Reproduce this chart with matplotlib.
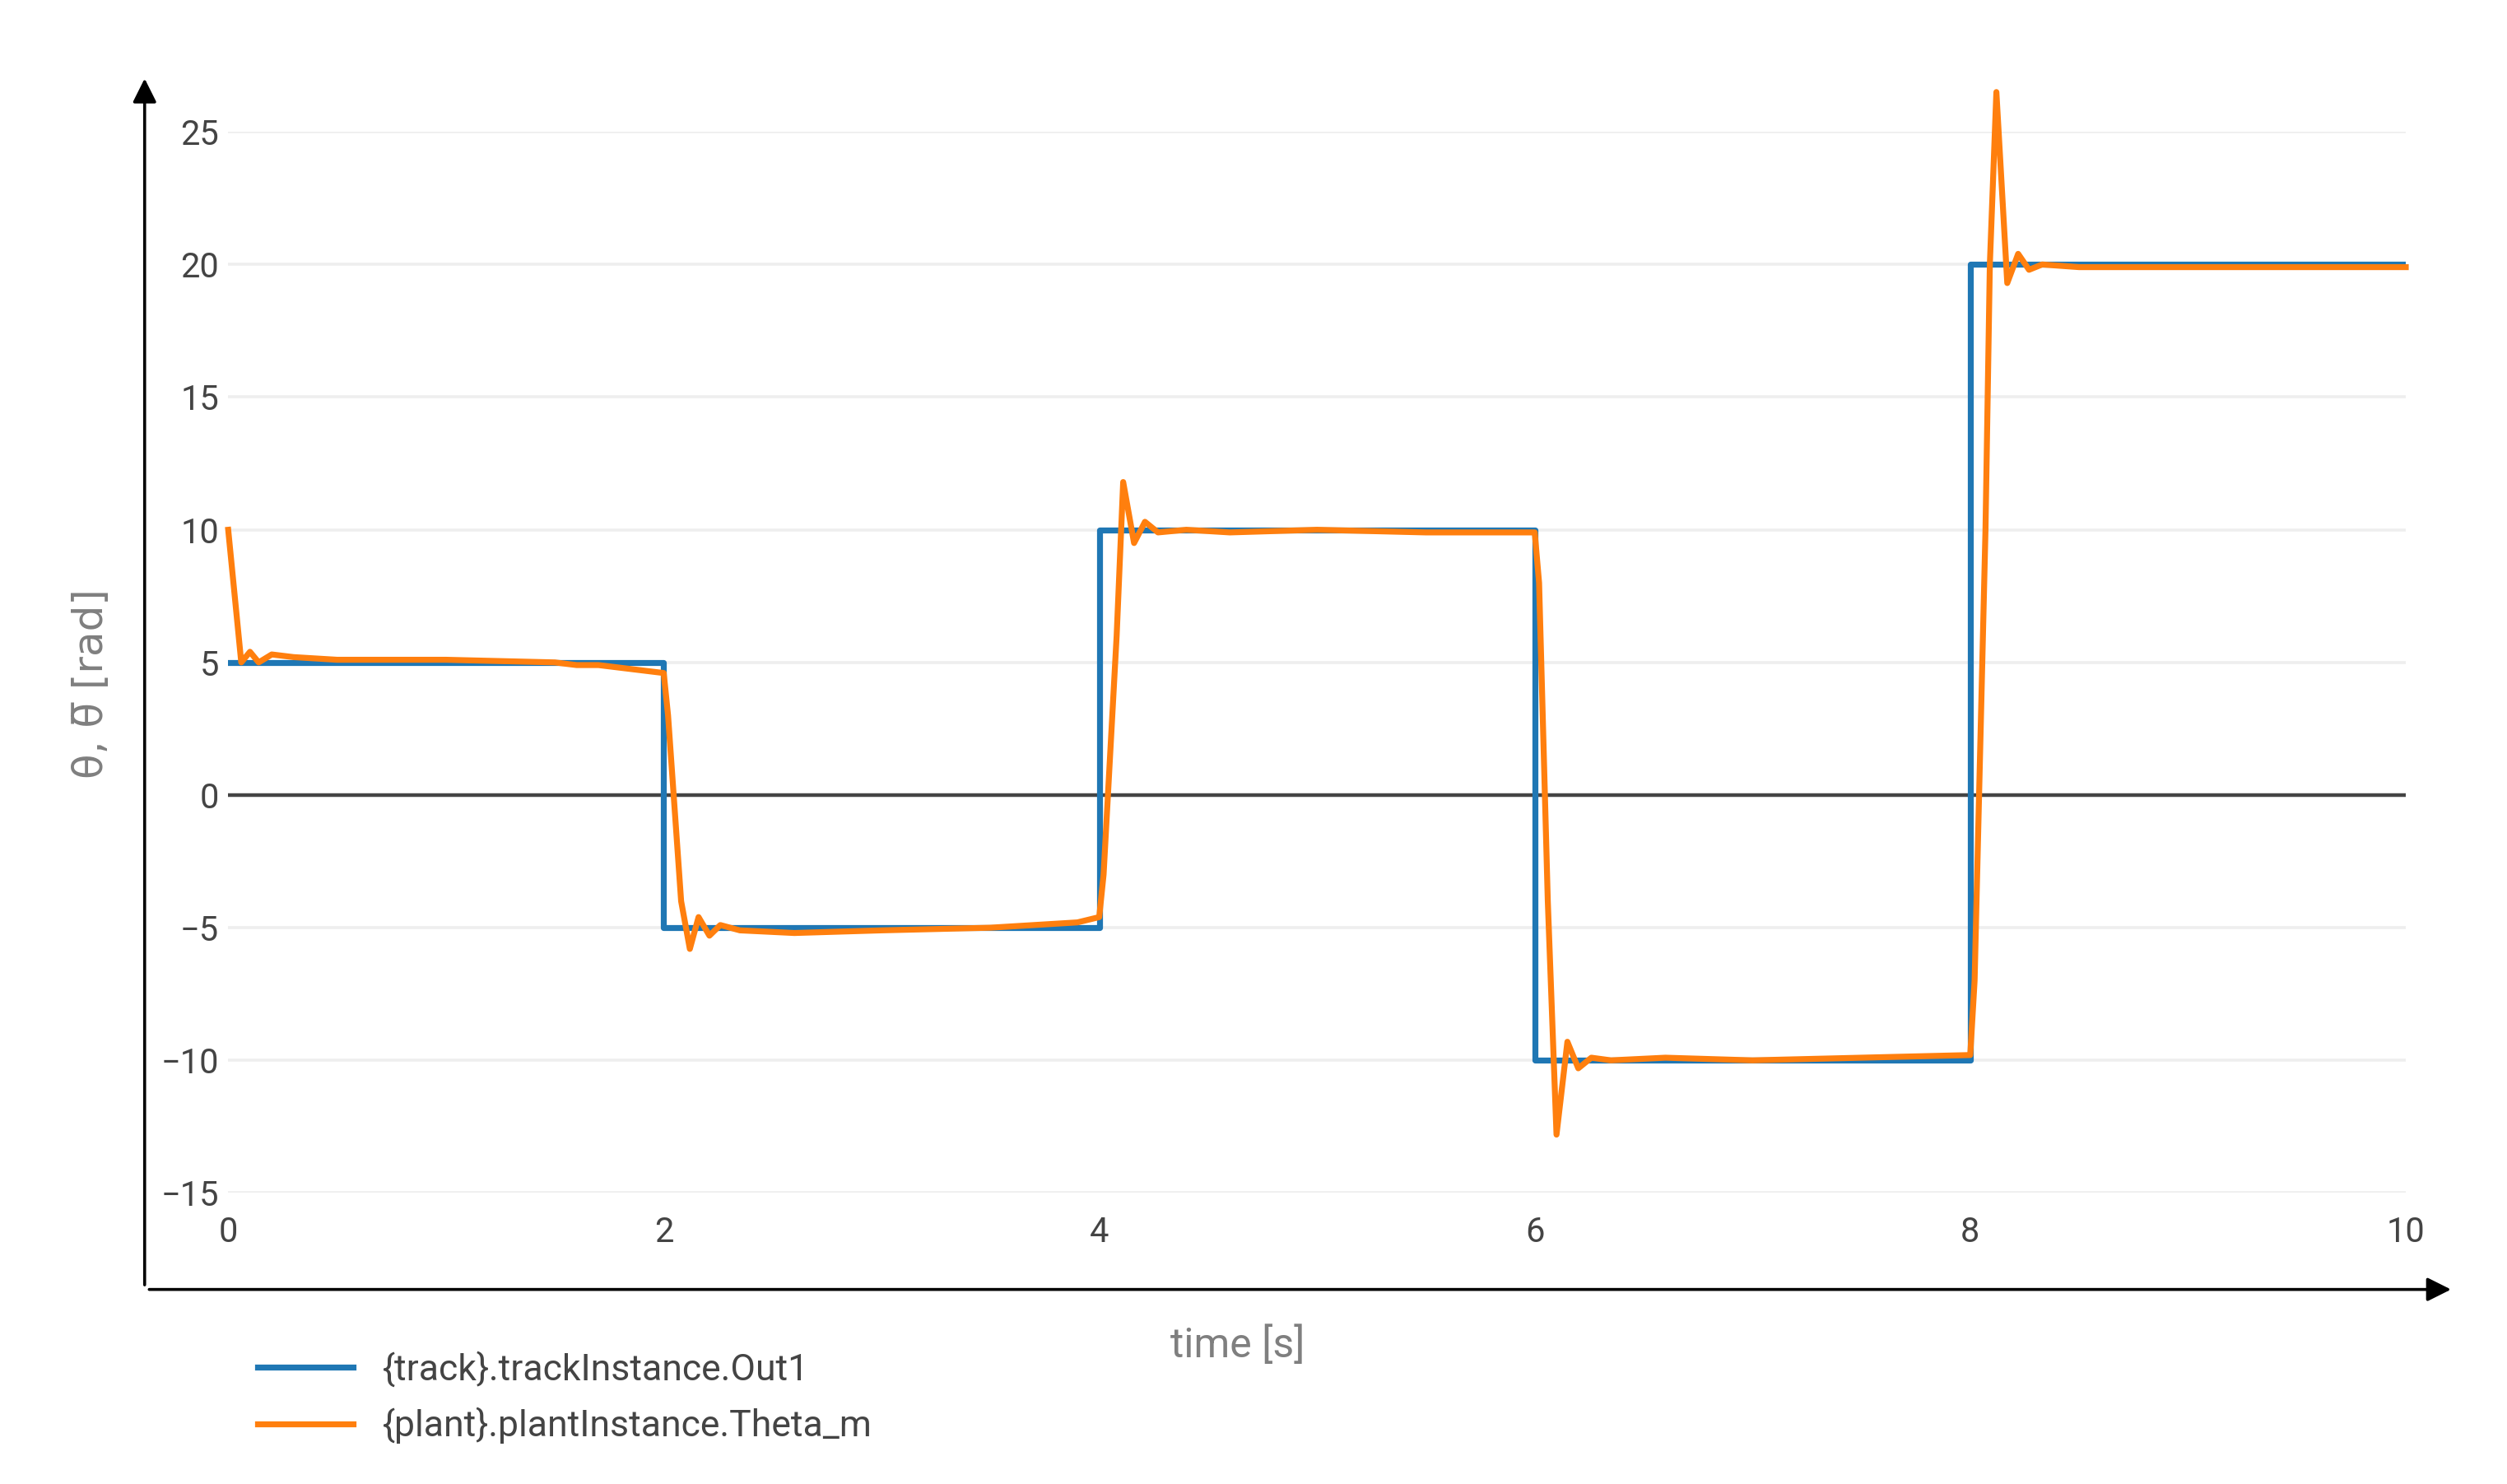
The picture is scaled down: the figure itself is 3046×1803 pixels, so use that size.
import matplotlib
matplotlib.use("Agg")
import matplotlib.pyplot as plt

# reference step signal
track_t = [0, 2, 2, 4, 4, 6, 6, 8, 8, 10]
track_y = [5, 5, -5, -5, 10, 10, -10, -10, 20, 20]

plant_t = [0, 0.06, 0.1, 0.14, 0.2, 0.3, 0.5, 1.0, 1.5, 1.6, 1.7, 2.0, 2.02, 2.08, 2.12, 2.16,
           2.21, 2.26, 2.35, 2.6, 3.0, 3.5, 3.9, 4.0, 4.02, 4.08, 4.11, 4.16, 4.21, 4.27, 4.4, 4.6,
           5.0, 5.5, 6.0, 6.02, 6.06, 6.1, 6.15, 6.2, 6.26, 6.35, 6.6, 7.0, 7.5, 8.0, 8.02, 8.07,
           8.09, 8.12, 8.17, 8.22, 8.27, 8.33, 8.5, 9.0, 10.0]
plant_y = [10, 5.0, 5.4, 5.0, 5.3, 5.2, 5.1, 5.1, 5.0, 4.9, 4.9, 4.6, 3.0, -4.0, -5.8, -4.6,
           -5.3, -4.9, -5.1, -5.2, -5.1, -5.0, -4.8, -4.6, -3.0, 6.0, 11.8, 9.5, 10.3, 9.9, 10.0, 9.9,
           10.0, 9.9, 9.9, 8.0, -4.0, -12.8, -9.3, -10.3, -9.9, -10.0, -9.9, -10.0, -9.9, -9.8, -7.0, 10.0,
           20.0, 26.5, 19.3, 20.4, 19.8, 20.0, 19.9, 19.9, 19.9]

y_ticks = [-15, -10, -5, 0, 5, 10, 15, 20, 25]
y_labels = ["\u221215", "\u221210", "\u22125", "0", "5", "10", "15", "20", "25"]
x_ticks = [0, 2, 4, 6, 8, 10]

plt.rcParams["font.family"] = ["Roboto", "DejaVu Sans"]
W, H = 1560, 923
fig = plt.figure(figsize=(15.23, 9.015), dpi=200)
ax = fig.add_axes([142 / W, 1 - 742 / H, (1497 - 142) / W, (742 - 82) / H])

for v in y_ticks:
    ax.axhline(v, color="#444444" if v == 0 else "#eeeeee", lw=1.6 if v == 0 else 1.3, zorder=0)
ax.plot(track_t, track_y, color="#1f77b4", lw=2.6, label="{track}.trackInstance.Out1")
ax.plot(plant_t, plant_y, color="#ff7f0e", lw=2.6, label="{plant}.plantInstance.Theta_m", clip_on=False)

ax.set_xlim(0, 10)
ax.set_ylim(-15, 25)
ax.set_xticks(x_ticks)
ax.set_yticks(y_ticks)
ax.set_yticklabels(y_labels)
ax.tick_params(length=0, labelsize=15, colors="#444444", pad=4)
ax.tick_params(axis="x", pad=10)
for s in ax.spines.values():
    s.set_visible(False)

# arrowed axes drawn in figure coords
fig.add_artist(matplotlib.patches.FancyArrowPatch((90 / W, 1 - 802 / H), (90 / W, 1 - 46 / H),
               transform=fig.transFigure, arrowstyle="-|>", mutation_scale=22, color="black", lw=1.3))
fig.add_artist(matplotlib.patches.FancyArrowPatch((90 / W, 1 - 802 / H), (1528 / W, 1 - 802 / H),
               transform=fig.transFigure, arrowstyle="-|>", mutation_scale=22, color="black", lw=1.3))

fig.text(770 / W, 1 - 837 / H, "time [s]", fontsize=18, color="#7f7f7f", ha="center", va="center")
fig.text(57 / W, 1 - 425 / H, "θ, θ\u0305 [rad]", fontsize=18, color="#7f7f7f",
         rotation=90, ha="center", va="center", family=["DejaVu Sans"])

handles, labels = ax.get_legend_handles_labels()
fig.legend(handles, labels, loc="upper left", bbox_to_anchor=(140 / W, 1 - 820 / H), frameon=False,
           fontsize=16, labelcolor="#444444", handlelength=2.6, labelspacing=0.55)

fig.savefig("out.png", dpi=200)
